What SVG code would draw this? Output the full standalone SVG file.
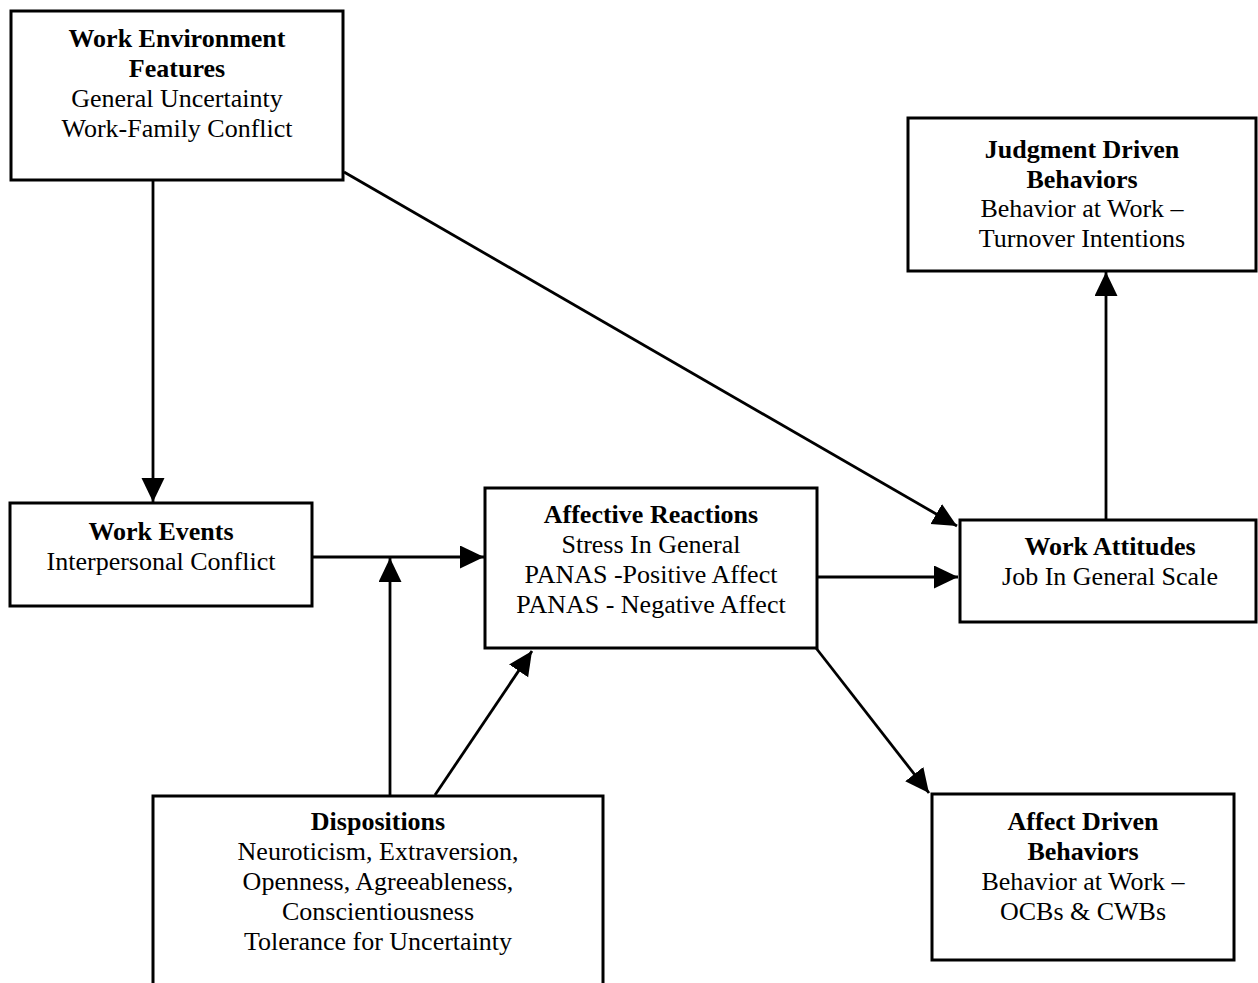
<svg xmlns="http://www.w3.org/2000/svg" width="1258" height="983" viewBox="0 0 1258 983">
<style>
.box{fill:#fff;stroke:#000;stroke-width:3}
.t{font-family:"Liberation Serif","Times New Roman",serif;font-size:26px;fill:#000;text-anchor:middle}
.b{font-weight:bold}
.c{stroke:#000;stroke-width:2.8;fill:none}
</style>
<defs>
<marker id="ah" markerUnits="userSpaceOnUse" markerWidth="26" markerHeight="24" refX="24" refY="11.5" orient="auto">
<path d="M0,0 L24,11.5 L0,23 z" fill="#000"/>
</marker>
</defs>
<rect width="1258" height="983" fill="#fff"/>
<g id="connectors">
<line class="c" x1="153" y1="180" x2="153" y2="502" marker-end="url(#ah)"/>
<line class="c" x1="344" y1="172" x2="957" y2="526" marker-end="url(#ah)"/>
<line class="c" x1="312" y1="557" x2="484" y2="557" marker-end="url(#ah)"/>
<line class="c" x1="390" y1="796" x2="390" y2="558" marker-end="url(#ah)"/>
<line class="c" x1="435" y1="795" x2="532" y2="651" marker-end="url(#ah)"/>
<line class="c" x1="817" y1="577" x2="958" y2="577" marker-end="url(#ah)"/>
<line class="c" x1="816" y1="648" x2="929" y2="793" marker-end="url(#ah)"/>
<line class="c" x1="1106" y1="520" x2="1106" y2="272" marker-end="url(#ah)"/>
</g>
<g id="work-environment">
<rect class="box" x="11" y="11" width="332" height="169"/>
<text class="t b" x="177" y="47">Work Environment</text>
<text class="t b" x="177" y="77">Features</text>
<text class="t" x="177" y="107">General Uncertainty</text>
<text class="t" x="177" y="137">Work-Family Conflict</text>
</g>
<g id="judgment-driven">
<rect class="box" x="908" y="118" width="348" height="153"/>
<text class="t b" x="1082" y="158">Judgment Driven</text>
<text class="t b" x="1082" y="188">Behaviors</text>
<text class="t" x="1082" y="217">Behavior at Work –</text>
<text class="t" x="1082" y="247">Turnover Intentions</text>
</g>
<g id="work-events">
<rect class="box" x="10" y="503" width="302" height="103"/>
<text class="t b" x="161" y="540">Work Events</text>
<text class="t" x="161" y="570">Interpersonal Conflict</text>
</g>
<g id="affective-reactions">
<rect class="box" x="485" y="488" width="332" height="160"/>
<text class="t b" x="651" y="523">Affective Reactions</text>
<text class="t" x="651" y="553">Stress In General</text>
<text class="t" x="651" y="583">PANAS -Positive Affect</text>
<text class="t" x="651" y="613">PANAS - Negative Affect</text>
</g>
<g id="work-attitudes">
<rect class="box" x="960" y="520" width="296" height="102"/>
<text class="t b" x="1110" y="555">Work Attitudes</text>
<text class="t" x="1110" y="585">Job In General Scale</text>
</g>
<g id="affect-driven">
<rect class="box" x="932" y="794" width="302" height="166"/>
<text class="t b" x="1083" y="830">Affect Driven</text>
<text class="t b" x="1083" y="860">Behaviors</text>
<text class="t" x="1083" y="890">Behavior at Work –</text>
<text class="t" x="1083" y="920">OCBs &amp; CWBs</text>
</g>
<g id="dispositions">
<rect class="box" x="153" y="796" width="450" height="210"/>
<text class="t b" x="378" y="830">Dispositions</text>
<text class="t" x="378" y="860">Neuroticism, Extraversion,</text>
<text class="t" x="378" y="890">Openness, Agreeableness,</text>
<text class="t" x="378" y="920">Conscientiousness</text>
<text class="t" x="378" y="950">Tolerance for Uncertainty</text>
</g>
</svg>
